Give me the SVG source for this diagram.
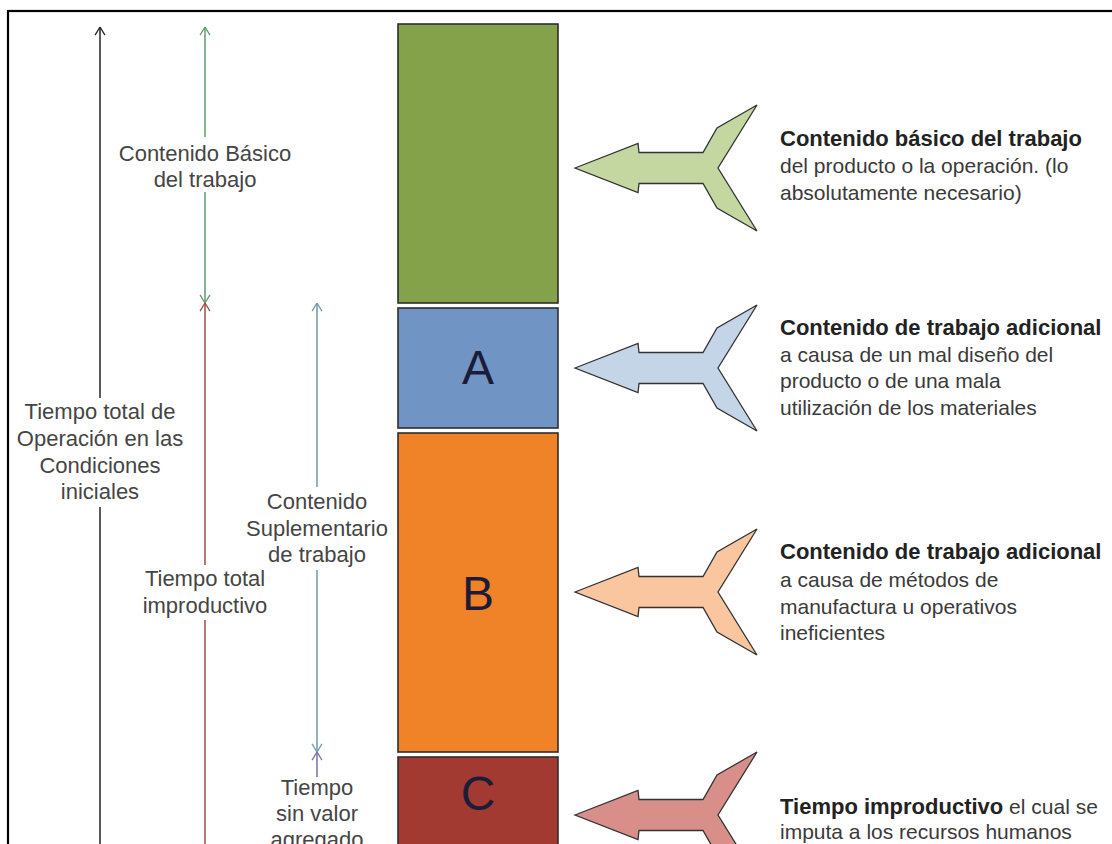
<svg xmlns="http://www.w3.org/2000/svg" width="1112" height="844" viewBox="0 0 1112 844">
<style>
.lbl{font-family:"Liberation Sans",Arial,sans-serif;font-size:22px;fill:#454545;text-anchor:middle}
.desc{font-family:"Liberation Sans",Arial,sans-serif;font-size:21px;fill:#3a3a3a}
.bold{font-weight:bold;font-size:22px;fill:#222}
.letter{font-family:"Liberation Sans",Arial,sans-serif;font-size:48px;fill:#1c1c38;text-anchor:middle}
.bar{stroke:#2e2e2e;stroke-width:1.6}
.shape{stroke:#333;stroke-width:1.3;stroke-linejoin:miter}
.ln{stroke-width:1.5;fill:none}
.k{stroke:#222}
.g{stroke:#5e9a6c}
.r{stroke:#9a4c46}
.b{stroke:#6f98aa}
.p{stroke:#7a6cb0}
</style>
<defs>
<marker id="mk" viewBox="0 0 10 12" refX="10" refY="6" markerWidth="9" markerHeight="12" markerUnits="userSpaceOnUse" orient="auto"><path d="M1,0.5 L10,6 L1,11.5" fill="none" stroke="#222" stroke-width="1.4"/></marker>
<marker id="mg" viewBox="0 0 10 12" refX="10" refY="6" markerWidth="9" markerHeight="12" markerUnits="userSpaceOnUse" orient="auto"><path d="M1,0.5 L10,6 L1,11.5" fill="none" stroke="#5e9a6c" stroke-width="1.4"/></marker>
<marker id="mr" viewBox="0 0 10 12" refX="10" refY="6" markerWidth="9" markerHeight="12" markerUnits="userSpaceOnUse" orient="auto"><path d="M1,0.5 L10,6 L1,11.5" fill="none" stroke="#9a4c46" stroke-width="1.4"/></marker>
<marker id="mb" viewBox="0 0 10 12" refX="10" refY="6" markerWidth="9" markerHeight="12" markerUnits="userSpaceOnUse" orient="auto"><path d="M1,0.5 L10,6 L1,11.5" fill="none" stroke="#6f98aa" stroke-width="1.4"/></marker>
<marker id="mp" viewBox="0 0 10 12" refX="10" refY="6" markerWidth="9" markerHeight="12" markerUnits="userSpaceOnUse" orient="auto"><path d="M1,0.5 L10,6 L1,11.5" fill="none" stroke="#7a6cb0" stroke-width="1.4"/></marker>
<path id="arw" d="M575,0 L638,-24.5 L639,-15.5 L703,-15.5 L717,-40 L757,-63 L718,0 L757,63 L717,40 L703,15.5 L639,15.5 L638,24.5 Z"/>
</defs>
<rect x="0" y="0" width="1112" height="844" fill="#fff"/>
<rect x="8" y="11" width="1120" height="860" fill="none" stroke="#000" stroke-width="2.2"/>

<g id="connectors">
<line class="ln k" x1="100" y1="398" x2="100" y2="27" marker-end="url(#mk)"/>
<line class="ln k" x1="100" y1="507" x2="100" y2="850"/>
<line class="ln g" x1="205" y1="137" x2="205" y2="27" marker-end="url(#mg)"/>
<line class="ln g" x1="205" y1="192" x2="205" y2="303" marker-end="url(#mg)"/>
<line class="ln r" x1="205" y1="565" x2="205" y2="303" marker-end="url(#mr)"/>
<line class="ln r" x1="205" y1="620" x2="205" y2="850"/>
<line class="ln b" x1="317" y1="487" x2="317" y2="303" marker-end="url(#mb)"/>
<line class="ln b" x1="317" y1="570" x2="317" y2="752" marker-end="url(#mb)"/>
<line class="ln p" x1="317" y1="777" x2="317" y2="752" marker-end="url(#mp)"/>
</g>

<g id="label-basico">
<text class="lbl" x="205" y="161">Contenido Básico</text>
<text class="lbl" x="205" y="187">del trabajo</text>
</g>
<g id="label-total">
<text class="lbl" x="100" y="419">Tiempo total de</text>
<text class="lbl" x="100" y="446">Operación en las</text>
<text class="lbl" x="100" y="473">Condiciones</text>
<text class="lbl" x="100" y="499">iniciales</text>
</g>
<g id="label-suplementario">
<text class="lbl" x="317" y="509">Contenido</text>
<text class="lbl" x="317" y="536">Suplementario</text>
<text class="lbl" x="317" y="562">de trabajo</text>
</g>
<g id="label-improductivo">
<text class="lbl" x="205" y="586">Tiempo total</text>
<text class="lbl" x="205" y="613">improductivo</text>
</g>
<g id="label-sinvalor">
<text class="lbl" x="317" y="795">Tiempo</text>
<text class="lbl" x="317" y="821">sin valor</text>
<text class="lbl" x="317" y="847">agregado</text>
</g>

<g id="bar-basico">
<rect class="bar" x="398" y="24" width="160" height="279" fill="#84a24a"/>
</g>
<g id="bar-A">
<rect class="bar" x="398" y="308" width="160" height="120" fill="#7094c4"/>
<text class="letter" x="478" y="384">A</text>
</g>
<g id="bar-B">
<rect class="bar" x="398" y="433" width="160" height="319" fill="#f08227"/>
<text class="letter" x="478" y="610">B</text>
</g>
<g id="bar-C">
<rect class="bar" x="398" y="757" width="160" height="100" fill="#a23a32"/>
<text class="letter" x="478" y="810">C</text>
</g>

<g id="arrow-basico">
<use href="#arw" class="shape" fill="#c4d7a0" transform="translate(0,168)"/>
<text class="desc" x="780" y="146"><tspan class="bold">Contenido básico del trabajo</tspan></text>
<text class="desc" x="780" y="173">del producto o la operación. (lo</text>
<text class="desc" x="780" y="200">absolutamente necesario)</text>
</g>
<g id="arrow-A">
<use href="#arw" class="shape" fill="#c5d5e8" transform="translate(0,368)"/>
<text class="desc" x="780" y="335"><tspan class="bold">Contenido de trabajo adicional</tspan></text>
<text class="desc" x="780" y="362">a causa de un mal diseño del</text>
<text class="desc" x="780" y="388">producto o de una mala</text>
<text class="desc" x="780" y="415">utilización de los materiales</text>
</g>
<g id="arrow-B">
<use href="#arw" class="shape" fill="#f9c6a0" transform="translate(0,592)"/>
<text class="desc" x="780" y="559"><tspan class="bold">Contenido de trabajo adicional</tspan></text>
<text class="desc" x="780" y="587">a causa de métodos de</text>
<text class="desc" x="780" y="614">manufactura u operativos</text>
<text class="desc" x="780" y="640">ineficientes</text>
</g>
<g id="arrow-C">
<use href="#arw" class="shape" fill="#d98f89" transform="translate(0,815)"/>
<text class="desc" x="780" y="814"><tspan class="bold">Tiempo improductivo</tspan> el cual se</text>
<text class="desc" x="780" y="839">imputa a los recursos humanos</text>
</g>
</svg>
